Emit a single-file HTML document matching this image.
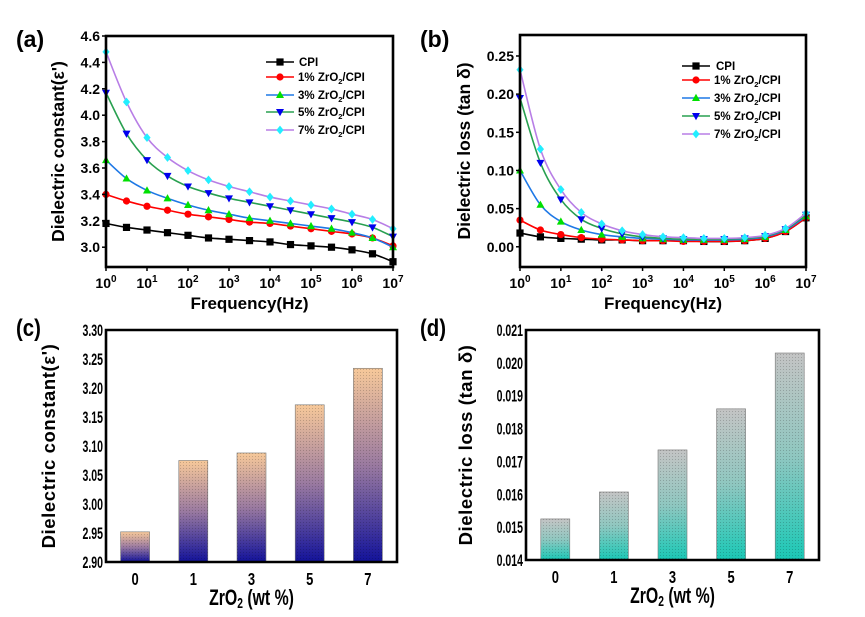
<!DOCTYPE html>
<html><head><meta charset="utf-8"><style>
body{margin:0;background:#fff}
svg{display:block;font-family:"Liberation Sans",sans-serif;font-weight:bold}
</style></head><body>
<svg id="fig" width="865" height="617" viewBox="0 0 865 617">
<defs>
<linearGradient id="gc" x1="0" y1="0" x2="0" y2="1"><stop offset="0" stop-color="#f7c99a"/><stop offset="0.5" stop-color="#9a7aa0"/><stop offset="1" stop-color="#12129a"/></linearGradient>
<linearGradient id="gd" x1="0" y1="0" x2="0" y2="1"><stop offset="0" stop-color="#c4c4c4"/><stop offset="0.5" stop-color="#8fc7c0"/><stop offset="1" stop-color="#1ac8b6"/></linearGradient>
<pattern id="hatch" width="3" height="3" patternUnits="userSpaceOnUse"><rect width="1" height="1" fill="rgba(0,0,0,0.18)"/></pattern>
</defs>
</svg>
<script>
const freqLog=[0,0.5,1,1.5,2,2.5,3,3.5,4,4.5,5,5.5,6,6.5,7];
const seriesNames=["CPI","1% ZrO2/CPI","3% ZrO2/CPI","5% ZrO2/CPI","7% ZrO2/CPI"];
const epsCPI=[3.18,3.15,3.13,3.11,3.09,3.07,3.06,3.05,3.04,3.02,3.01,3.00,2.98,2.95,2.89];
const eps1=[3.40,3.35,3.31,3.28,3.25,3.23,3.21,3.19,3.18,3.16,3.14,3.12,3.10,3.07,3.01];
const eps3=[3.66,3.52,3.43,3.37,3.32,3.28,3.25,3.22,3.20,3.18,3.16,3.14,3.11,3.07,3.00];
const eps5=[4.17,3.86,3.66,3.54,3.46,3.41,3.37,3.34,3.31,3.28,3.25,3.22,3.19,3.15,3.08];
const eps7=[4.48,4.10,3.83,3.68,3.58,3.51,3.46,3.42,3.38,3.35,3.32,3.29,3.25,3.21,3.14];
const lossCPI=[0.018,0.013,0.011,0.010,0.009,0.009,0.008,0.008,0.008,0.007,0.007,0.008,0.011,0.020,0.038];
const loss1=[0.035,0.022,0.016,0.012,0.010,0.009,0.008,0.008,0.007,0.007,0.007,0.008,0.011,0.020,0.038];
const loss3=[0.100,0.055,0.033,0.022,0.016,0.013,0.011,0.010,0.009,0.009,0.009,0.010,0.013,0.022,0.040];
const loss5=[0.195,0.110,0.062,0.036,0.024,0.017,0.013,0.011,0.010,0.010,0.010,0.011,0.014,0.023,0.042];
const loss7=[0.232,0.128,0.075,0.045,0.030,0.021,0.016,0.013,0.012,0.011,0.011,0.012,0.015,0.024,0.044];
const barCats=["0","1","3","5","7"];
const barEps=[2.952,3.075,3.088,3.171,3.234];
const barLoss=[0.01525,0.01607,0.01735,0.0186,0.0203];
const ticksA=[3.0,3.2,3.4,3.6,3.8,4.0,4.2,4.4,4.6];
const ticksB=[0.00,0.05,0.10,0.15,0.20,0.25];
const ticksC=[2.90,2.95,3.00,3.05,3.10,3.15,3.20,3.25,3.30];
const ticksD=[0.014,0.015,0.016,0.017,0.018,0.019,0.020,0.021];
const decades=[0,1,2,3,4,5,6,7];

const svg=document.getElementById('fig');
const NS="http://www.w3.org/2000/svg";
function mk(tag,attrs,parent){const e=document.createElementNS(NS,tag);for(const k in attrs)e.setAttribute(k,attrs[k]);(parent||svg).appendChild(e);return e;}
function txt(s,attrs,parent){const e=mk('text',attrs,parent);e.textContent=s;return e;}
function zr(parent,pre,post,attrs){const t=mk('text',attrs,parent);t.appendChild(document.createTextNode(pre));const s=mk('tspan',{'font-size':'0.65em',dy:'3'},t);s.textContent='2';const r=mk('tspan',{dy:'-3'},t);r.textContent=post;return t;}
function cond(x,sx){return `translate(${x},0) scale(${sx},1) translate(${-x},0)`;}

const styles=[
 {line:'#000',fill:'#000',m:'sq'},
 {line:'#ff0000',fill:'#ff0000',m:'ci'},
 {line:'#1e78e6',fill:'#00e000',m:'tu'},
 {line:'#28a050',fill:'#0000ee',m:'td'},
 {line:'#b87ee6',fill:'#22eeff',m:'di'}];
function marker(g,type,x,y,fill){
 const s=3.6;let e;
 if(type==='sq')e=mk('rect',{x:x-s,y:y-s,width:2*s,height:2*s,fill},g);
 else if(type==='ci')e=mk('circle',{cx:x,cy:y,r:s,fill},g);
 else if(type==='tu')e=mk('polygon',{points:`${x},${y-s-0.6} ${x-s-0.4},${y+s-0.6} ${x+s+0.4},${y+s-0.6}`,fill},g);
 else if(type==='td')e=mk('polygon',{points:`${x},${y+s+0.6} ${x-s-0.4},${y-s+0.6} ${x+s+0.4},${y-s+0.6}`,fill},g);
 else e=mk('polygon',{points:`${x},${y-s-0.8} ${x+s},${y} ${x},${y+s+0.8} ${x-s},${y}`,fill},g);
 
 
}
function smooth(pts){let d=`M${pts[0][0]},${pts[0][1]}`;for(let i=0;i<pts.length-1;i++){const p0=pts[i-1]||pts[i],p1=pts[i],p2=pts[i+1],p3=pts[i+2]||p2;d+=` C${p1[0]+(p2[0]-p0[0])/6},${p1[1]+(p2[1]-p0[1])/6} ${p2[0]-(p3[0]-p1[0])/6},${p2[1]-(p3[1]-p1[1])/6} ${p2[0]},${p2[1]}`;}return d;}

function linePanel(o){
 const g=mk('g',{},svg);
 
 
 const X=v=>o.x0+(v-0)/7*(o.x1-o.x0);
 const Y=v=>o.y1-(v-o.ymin)/(o.ymax-o.ymin)*(o.y1-o.y0);
 o.data.forEach((arr,i)=>{
  const sg=mk('g',{},g);
  
  
  const pts=arr.map((v,j)=>[X(freqLog[j]),Y(v)]);
  const p=mk('path',{d:smooth(pts),fill:'none',stroke:styles[i].line,'stroke-width':1.6},sg);
  
  
  pts.forEach(q=>marker(sg,styles[i].m,q[0],q[1],styles[i].fill));
 });
 const fr=mk('rect',{x:o.x0,y:o.y0,width:o.x1-o.x0,height:o.y1-o.y0,fill:'none',stroke:'#000','stroke-width':2.6},g);
 
 
 o.yt.forEach(v=>{mk('line',{x1:o.x0-4,x2:o.x0,y1:Y(v),y2:Y(v),stroke:'#000','stroke-width':1.5},g);
  const t=txt(o.fmt(v),{x:o.x0-6,y:Y(v)+5,'text-anchor':'end','font-size':14},g);
  
  });
 decades.forEach(d=>{mk('line',{x1:X(d),x2:X(d),y1:o.y1,y2:o.y1+4,stroke:'#000','stroke-width':1.5},g);
  const t=mk('text',{x:X(d),y:o.y1+21,'text-anchor':'middle','font-size':14},g);
  t.appendChild(document.createTextNode('10'));const s=mk('tspan',{'font-size':10,dy:-6},t);s.textContent=String(d);
  
  });
 const xt=txt('Frequency(Hz)',{x:(o.x0+o.x1)/2,y:o.y1+42,'text-anchor':'middle','font-size':17},g);
 
 
 const yt=txt(o.ytitle,{x:0,y:0,transform:`translate(${o.ytx},${(o.y0+o.y1)/2}) rotate(-90)`,'text-anchor':'middle','font-size':17.5},g);
 
 
 const pl=txt(o.label,{x:o.lx,y:47,'font-size':23},g);
 
 
 const lg=mk('g',{},g);
 
 
 seriesNames.forEach((n,i)=>{
  const y=o.legY[i];
  const eg=mk('g',{},lg);
  
  
  mk('line',{x1:o.legX,x2:o.legX+28,y1:y,y2:y,stroke:styles[i].line,'stroke-width':1.6},eg);
  marker(eg,styles[i].m,o.legX+14,y,styles[i].fill);
  if(i===0)txt('CPI',{x:o.legX+(o.cpiOff),y:y+4,'font-size':11.5},eg);
  else zr(eg,n.split('ZrO2')[0]+'ZrO','/CPI',{x:o.legX+32,y:y+4,'font-size':11.5});
 });
}
linePanel({name:'panel-a-dielectric-constant',x0:106,x1:393,y0:36,y1:267,ymin:2.85,ymax:4.6,
 data:[epsCPI,eps1,eps3,eps5,eps7],yt:ticksA,fmt:v=>v.toFixed(1),ytitle:"Dielectric constant(ε')",ytx:64,label:'(a)',lx:16,
 legX:266,legY:[62,77,95,112,130],cpiOff:33});
linePanel({name:'panel-b-dielectric-loss',x0:520,x1:806,y0:35,y1:267,ymin:-0.0265,ymax:0.2775,
 data:[lossCPI,loss1,loss3,loss5,loss7],yt:ticksB,fmt:v=>v.toFixed(2),ytitle:"Dielectric loss (tan δ)",ytx:470,label:'(b)',lx:420,
 legX:682,legY:[66,80,98,116,134],cpiOff:34});

function barPanel(o){
 const g=mk('g',{},svg);
 
 
 const Y=v=>o.y1-(v-o.ymin)/(o.ymax-o.ymin)*(o.y1-o.y0);
 const band=(o.x1-o.x0)/barCats.length;
 const X=i=>o.x0+band*(i+0.5);
 o.vals.forEach((v,i)=>{
  const r=mk('rect',{x:X(i)-14.5,y:Y(v),width:29,height:o.y1-Y(v),fill:`url(#${o.grad})`,stroke:'#777','stroke-width':0.6},g);
  
  
  mk('rect',{x:X(i)-14.5,y:Y(v),width:29,height:o.y1-Y(v),fill:'url(#hatch)'},g);
  const t=txt(barCats[i],{x:X(i),y:o.y1+23,'text-anchor':'middle','font-size':18,transform:cond(X(i),0.72)},g);
  
  
 });
 const fr=mk('path',{d:`M${o.x0},${o.y1}V${o.y0}H${o.x1}V${o.y1}Z`,fill:'none',stroke:'#000','stroke-width':2.6},g);
 
 
 o.yt.forEach(v=>{const t=txt(o.fmt(v),{x:o.x0-3,y:Y(v)+6,'text-anchor':'end','font-size':17,transform:cond(o.x0-3,0.62)},g);
  
  });
 const cx=(o.x0+o.x1)/2;
 const xt=zr(g,'ZrO',' (wt %)',{x:cx,y:o.y1+43,'text-anchor':'middle','font-size':22,transform:cond(cx,0.72)});
 
 
 const yt=txt(o.ytitle,{x:0,y:0,transform:`translate(${o.ytx},${(o.y0+o.y1)/2}) rotate(-90)`,'text-anchor':'middle','font-size':18.5,'letter-spacing':'0.6'},g);
 
 
 const pl=txt(o.label,{x:o.lx,y:336,'font-size':24,transform:cond(o.lx,0.85)},g);
 
 
}
barPanel({name:'panel-c-dielectric-constant-bars',x0:106,x1:397,y0:330,y1:562,ymin:2.90,ymax:3.30,vals:barEps,grad:'gc',
 yt:ticksC,fmt:v=>v.toFixed(2),ytitle:"Dielectric constant(ε')",ytx:55,label:'(c)',lx:16});
barPanel({name:'panel-d-dielectric-loss-bars',x0:526,x1:819,y0:330,y1:560,ymin:0.014,ymax:0.021,vals:barLoss,grad:'gd',
 yt:ticksD,fmt:v=>v.toFixed(3),ytitle:"Dielectric loss (tan δ)",ytx:472,label:'(d)',lx:420});
</script>
</body></html>
